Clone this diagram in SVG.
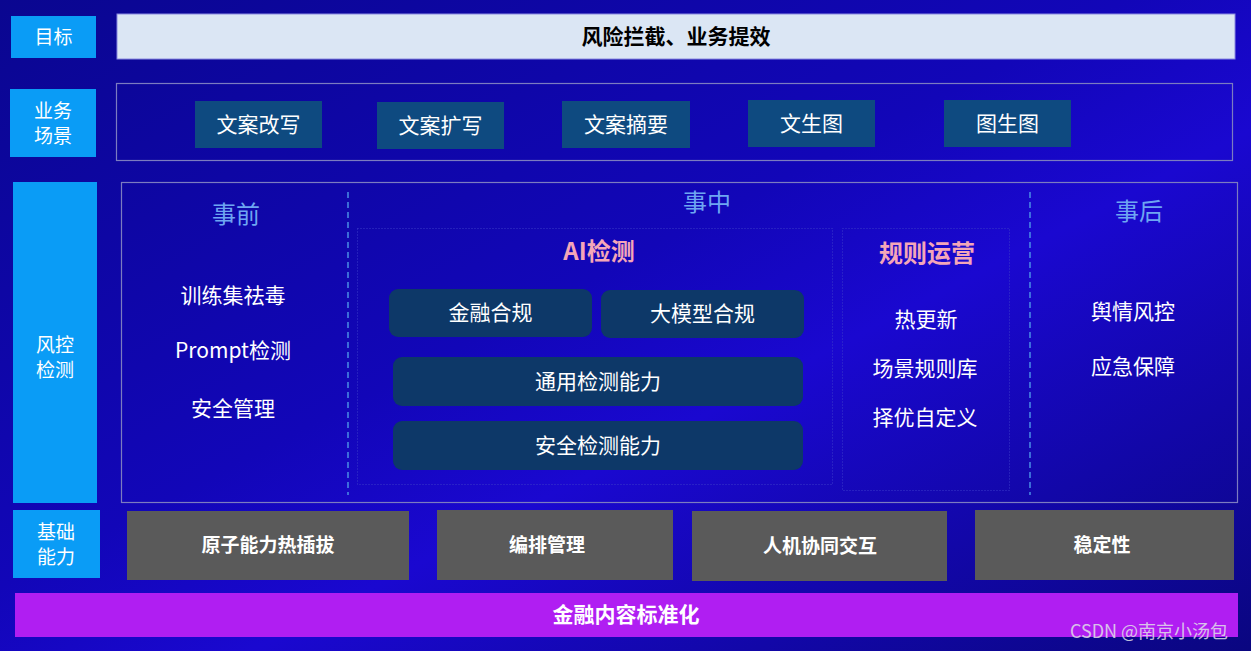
<svg xmlns="http://www.w3.org/2000/svg" width="1251" height="651" viewBox="0 0 1251 651">
<defs>
<linearGradient id="bg" x1="0" y1="0" x2="1" y2="1">
<stop offset="0" stop-color="#0a0690"/>
<stop offset="0.45" stop-color="#1206b8"/>
<stop offset="0.6" stop-color="#1a08d0"/>
<stop offset="1" stop-color="#0a0680"/>
</linearGradient>
<style>
text{font-family:"Noto Sans CJK SC","Noto Sans",sans-serif;text-anchor:middle;dominant-baseline:central}
.lab{fill:#0a9cf6}
.labt{fill:#fff;font-size:19px}
.frame{fill:none;stroke:#7c7cc0;stroke-width:1.2}
.scn{fill:#0e4a80}
.scnt{fill:#fff;font-size:21px}
.phase{fill:#6ea6f2;font-size:24px}
.item{fill:#fff;font-size:21px}
.pink{fill:#f4a6b8;font-size:24px;font-weight:bold}
.dot{fill:none;stroke:#3a3ac8;stroke-width:1;stroke-dasharray:1 2}
.btn{fill:#0d3868}
.btnt{fill:#fff;font-size:21px}
.dash{stroke:#4a8ee6;stroke-width:1.5;stroke-dasharray:6 4}
.base{fill:#5a5a5a}
.baset{fill:#fff;font-size:19px;font-weight:bold}
</style>
</defs>
<rect x="0" y="0" width="1251" height="651" fill="url(#bg)"/>

<g id="label-goal"><rect class="lab" x="11" y="16" width="85" height="42"/><text class="labt" x="53.5" y="35">目标</text></g>
<g id="label-scene"><rect class="lab" x="10" y="89" width="86" height="68"/><text class="labt" x="53" y="109">业务</text><text class="labt" x="53" y="134">场景</text></g>
<g id="label-risk"><rect class="lab" x="13" y="182" width="84" height="321"/><text class="labt" x="55" y="343">风控</text><text class="labt" x="55" y="368">检测</text></g>
<g id="label-base"><rect class="lab" x="13" y="510" width="87" height="68"/><text class="labt" x="56" y="530">基础</text><text class="labt" x="56" y="555">能力</text></g>

<g id="goal-bar"><rect x="117" y="14" width="1118" height="45" fill="#dbe6f4" stroke="#8a8ae0" stroke-width="1"/><text x="676" y="35" font-size="21" font-weight="bold" fill="#000">风险拦截、业务提效</text></g>

<g id="scene-frame"><rect class="frame" x="116.5" y="83.5" width="1116" height="77"/></g>
<g id="scene-1"><rect class="scn" x="195" y="101" width="127" height="47"/><text class="scnt" x="258.5" y="122.5">文案改写</text></g>
<g id="scene-2"><rect class="scn" x="377" y="102" width="127" height="47"/><text class="scnt" x="440.5" y="123.5">文案扩写</text></g>
<g id="scene-3"><rect class="scn" x="562" y="101" width="128" height="47"/><text class="scnt" x="626" y="122.5">文案摘要</text></g>
<g id="scene-4"><rect class="scn" x="748" y="100" width="127" height="47"/><text class="scnt" x="811.5" y="121.5">文生图</text></g>
<g id="scene-5"><rect class="scn" x="944" y="100" width="127" height="47"/><text class="scnt" x="1007.5" y="121.5">图生图</text></g>

<g id="risk-frame"><rect class="frame" x="121.5" y="182.5" width="1116" height="320"/></g>
<g id="dividers">
<line class="dash" x1="348" y1="192" x2="348" y2="495"/>
<line class="dash" x1="1030" y1="192" x2="1030" y2="495"/>
</g>

<g id="phase-before">
<text class="phase" x="236" y="212">事前</text>
<text class="item" x="233" y="294">训练集祛毒</text>
<text class="item" x="233" y="349">Prompt检测</text>
<text class="item" x="233" y="407">安全管理</text>
</g>
<g id="phase-during"><text class="phase" x="707" y="200">事中</text></g>

<g id="ai-detect">
<rect class="dot" x="357.5" y="228.5" width="475" height="256"/>
<text class="pink" x="599" y="249">AI检测</text>
</g>
<g id="btn-fin"><rect class="btn" x="389" y="289" width="203" height="48" rx="9"/><text class="btnt" x="490.5" y="311">金融合规</text></g>
<g id="btn-llm"><rect class="btn" x="601" y="290" width="203" height="48" rx="9"/><text class="btnt" x="702.5" y="312">大模型合规</text></g>
<g id="btn-general"><rect class="btn" x="393" y="357" width="410" height="49" rx="9"/><text class="btnt" x="598" y="379.5">通用检测能力</text></g>
<g id="btn-security"><rect class="btn" x="393" y="421" width="410" height="49" rx="9"/><text class="btnt" x="598" y="443.5">安全检测能力</text></g>

<g id="rule-ops">
<rect class="dot" x="842.5" y="228.5" width="167" height="262"/>
<text class="pink" x="927" y="251">规则运营</text>
<text class="item" x="926" y="318">热更新</text>
<text class="item" x="925" y="367">场景规则库</text>
<text class="item" x="925" y="416">择优自定义</text>
</g>

<g id="phase-after">
<text class="phase" x="1139" y="209">事后</text>
<text class="item" x="1133" y="310">舆情风控</text>
<text class="item" x="1133" y="365">应急保障</text>
</g>

<g id="base-1"><rect class="base" x="127" y="511" width="282" height="69"/><text class="baset" x="268" y="543">原子能力热插拔</text></g>
<g id="base-2"><rect class="base" x="437" y="510" width="236" height="70"/><text class="baset" x="547" y="543">编排管理</text></g>
<g id="base-3"><rect class="base" x="692" y="511" width="255" height="70"/><text class="baset" x="820" y="544">人机协同交互</text></g>
<g id="base-4"><rect class="base" x="975" y="510" width="259" height="70"/><text class="baset" x="1102" y="543">稳定性</text></g>

<g id="std-bar"><rect x="15" y="593" width="1223" height="44" fill="#b01ef2"/><text x="626" y="613" font-size="21" font-weight="bold" fill="#fff">金融内容标准化</text></g>

<text x="1149" y="630" font-size="18" fill="#e0e0e8" fill-opacity="0.85">CSDN @南京小汤包</text>
</svg>
